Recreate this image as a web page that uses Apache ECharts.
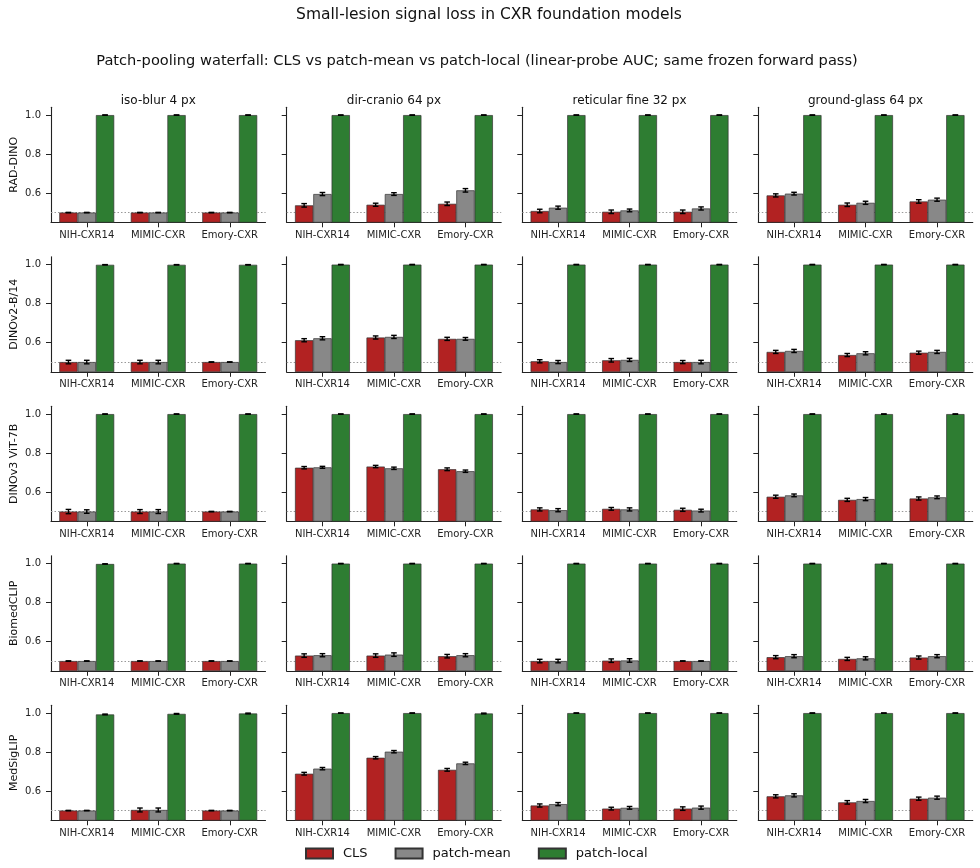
<!DOCTYPE html>
<html>
<head>
<meta charset="utf-8">
<script src="https://cdn.jsdelivr.net/npm/echarts@6/dist/echarts.min.js"></script>
<style>
html,body{margin:0;padding:0;background:#fff;}
#chart{width:980px;height:868px;}
</style>
</head>
<body>
<div id="chart"></div>
<script>
// ---------- data ----------
const lesions = ['iso-blur 4 px', 'dir-cranio 64 px', 'reticular fine 32 px', 'ground-glass 64 px'];
const models = ['RAD-DINO', 'DINOv2-B/14', 'DINOv3 ViT-7B', 'BiomedCLIP', 'MedSigLIP'];
const datasets = ['NIH-CXR14', 'MIMIC-CXR', 'Emory-CXR'];
const poolings = ['CLS', 'patch-mean', 'patch-local'];
const yTicks = [0.6, 0.8, 1.0];
const chanceLevel = 0.5;

// values: [lesion][dataset]
const radDinoCLS   = [[0.500,0.500,0.500],[0.537,0.540,0.545],[0.508,0.504,0.504],[0.588,0.540,0.557]];
const radDinoMean  = [[0.500,0.500,0.500],[0.595,0.595,0.614],[0.525,0.511,0.521],[0.597,0.550,0.566]];
const radDinoLocal = [[1.000,1.000,1.000],[1.000,1.000,1.000],[1.000,1.000,1.000],[1.000,1.000,1.000]];
const radDinoCLSErr   = [[0.001,0.001,0.001],[0.009,0.008,0.009],[0.009,0.009,0.009],[0.008,0.009,0.009]];
const radDinoMeanErr  = [[0.001,0.001,0.001],[0.008,0.007,0.009],[0.008,0.007,0.008],[0.007,0.008,0.008]];
const radDinoLocalErr = [[0.001,0.001,0.001],[0.001,0.001,0.001],[0.001,0.001,0.001],[0.001,0.001,0.001]];

const dinov2CLS   = [[0.500,0.500,0.500],[0.612,0.626,0.619],[0.504,0.509,0.500],[0.552,0.536,0.548]];
const dinov2Mean  = [[0.500,0.500,0.500],[0.622,0.629,0.619],[0.500,0.511,0.500],[0.557,0.545,0.552]];
const dinov2Local = [[0.999,0.999,0.999],[1.000,1.000,1.000],[1.000,1.000,1.000],[1.000,1.000,1.000]];
const dinov2CLSErr   = [[0.009,0.009,0.001],[0.008,0.008,0.008],[0.008,0.009,0.008],[0.008,0.008,0.008]];
const dinov2MeanErr  = [[0.009,0.009,0.001],[0.008,0.008,0.007],[0.008,0.008,0.009],[0.008,0.008,0.008]];
const dinov2LocalErr = [[0.001,0.001,0.001],[0.001,0.001,0.001],[0.001,0.001,0.001],[0.001,0.001,0.001]];

const dinov3CLS   = [[0.500,0.500,0.500],[0.725,0.731,0.717],[0.511,0.514,0.509],[0.576,0.560,0.567]];
const dinov3Mean  = [[0.500,0.500,0.500],[0.727,0.722,0.707],[0.507,0.511,0.505],[0.583,0.564,0.573]];
const dinov3Local = [[1.000,1.000,1.000],[1.000,1.000,1.000],[1.000,1.000,1.000],[1.000,1.000,1.000]];
const dinov3CLSErr   = [[0.011,0.010,0.001],[0.006,0.006,0.007],[0.008,0.007,0.008],[0.008,0.008,0.008]];
const dinov3MeanErr  = [[0.009,0.010,0.001],[0.005,0.006,0.006],[0.008,0.008,0.007],[0.007,0.008,0.007]];
const dinov3LocalErr = [[0.001,0.001,0.001],[0.001,0.001,0.001],[0.001,0.001,0.001],[0.001,0.001,0.001]];

const biomedCLS   = [[0.500,0.500,0.500],[0.528,0.528,0.525],[0.500,0.502,0.500],[0.520,0.511,0.518]];
const biomedMean  = [[0.500,0.500,0.500],[0.530,0.533,0.530],[0.500,0.503,0.500],[0.525,0.514,0.525]];
const biomedLocal = [[0.998,1.000,1.000],[1.000,1.000,1.000],[1.000,1.000,1.000],[1.000,1.000,1.000]];
const biomedCLSErr   = [[0.001,0.001,0.001],[0.009,0.009,0.009],[0.009,0.009,0.001],[0.008,0.008,0.008]];
const biomedMeanErr  = [[0.001,0.001,0.001],[0.008,0.009,0.008],[0.009,0.009,0.001],[0.008,0.008,0.008]];
const biomedLocalErr = [[0.001,0.001,0.001],[0.001,0.001,0.001],[0.001,0.001,0.001],[0.001,0.001,0.001]];

const medsigCLS   = [[0.500,0.503,0.500],[0.689,0.771,0.709],[0.526,0.510,0.510],[0.573,0.542,0.561]];
const medsigMean  = [[0.500,0.503,0.500],[0.715,0.802,0.742],[0.533,0.514,0.515],[0.578,0.549,0.566]];
const medsigLocal = [[0.993,0.996,0.998],[1.000,1.000,0.998],[1.000,1.000,1.000],[1.000,1.000,1.000]];
const medsigCLSErr   = [[0.001,0.010,0.001],[0.007,0.006,0.007],[0.008,0.007,0.009],[0.008,0.009,0.008]];
const medsigMeanErr  = [[0.001,0.010,0.001],[0.006,0.006,0.006],[0.008,0.007,0.008],[0.008,0.008,0.008]];
const medsigLocalErr = [[0.002,0.002,0.002],[0.001,0.001,0.002],[0.001,0.001,0.001],[0.001,0.001,0.001]];

const modelValues = [
  [radDinoCLS, radDinoMean, radDinoLocal],
  [dinov2CLS, dinov2Mean, dinov2Local],
  [dinov3CLS, dinov3Mean, dinov3Local],
  [biomedCLS, biomedMean, biomedLocal],
  [medsigCLS, medsigMean, medsigLocal]
];
const modelErrors = [
  [radDinoCLSErr, radDinoMeanErr, radDinoLocalErr],
  [dinov2CLSErr, dinov2MeanErr, dinov2LocalErr],
  [dinov3CLSErr, dinov3MeanErr, dinov3LocalErr],
  [biomedCLSErr, biomedMeanErr, biomedLocalErr],
  [medsigCLSErr, medsigMeanErr, medsigLocalErr]
];

// ---------- style / layout ----------
const FONT = 'DejaVu Sans';
const colors = ['#B22222', '#888888', '#2E7D32'];
const colLefts = [51, 286.7, 522.3, 758.3];
const gridW = 214.5;
const gridH = 115;
const rowTop0 = 107.3;
const rowStep = 149.5;
const barFrac = 0.256;

const chart = echarts.init(document.getElementById('chart'), null, {renderer: 'canvas'});

const grids = [], xAxes = [], yAxes = [], series = [], graphics = [];

graphics.push({type:'text', x: 489, y: 15, style:{text:'Small-lesion signal loss in CXR foundation models', font:`15.5px "${FONT}"`, fill:'#111', textAlign:'center', textVerticalAlign:'middle'}});
graphics.push({type:'text', x: 477, y: 61, style:{text:'Patch-pooling waterfall: CLS vs patch-mean vs patch-local (linear-probe AUC; same frozen forward pass)', font:`14.6px "${FONT}"`, fill:'#111', textAlign:'center', textVerticalAlign:'middle'}});

lesions.forEach((les, c) => {
  graphics.push({type:'text', x: colLefts[c] + gridW/2, y: 100.5, style:{text: les, font:`12px "${FONT}"`, fill:'#111', textAlign:'center', textVerticalAlign:'middle'}});
});

let gi = 0;
models.forEach((model, r) => {
  lesions.forEach((les, c) => {
    grids.push({left: colLefts[c], top: rowTop0 + r*rowStep, width: gridW, height: gridH, containLabel: false});
    xAxes.push({
      type: 'category', gridIndex: gi, data: datasets, boundaryGap: true,
      axisLine: {show: true, lineStyle: {color: '#222', width: 1.1}},
      axisTick: {show: true, alignWithLabel: true, length: 5, lineStyle: {color: '#222', width: 1}},
      axisLabel: {show: true, interval: 0, hideOverlap: false, fontFamily: FONT, fontSize: 10, color: '#222', margin: 8},
      splitLine: {show: false}
    });
    yAxes.push({
      type: 'value', gridIndex: gi, min: 0.45, max: 1.04,
      name: c === 0 ? model : '', nameLocation: 'middle', nameGap: 31, nameRotate: 90,
      nameTextStyle: {fontFamily: FONT, fontSize: 11, color: '#111'},
      axisLine: {show: true, lineStyle: {color: '#222', width: 1.1}},
      axisTick: {show: true, length: 5, customValues: yTicks, lineStyle: {color: '#222', width: 1}},
      axisLabel: {show: c === 0, customValues: yTicks, fontFamily: FONT, fontSize: 10, color: '#222', margin: 10,
                  formatter: v => v.toFixed(1)},
      splitLine: {show: false}
    });
    const vals = modelValues[r];
    const errs = modelErrors[r];
    poolings.forEach((p, k) => {
      const s = {
        type: 'bar', name: p, xAxisIndex: gi, yAxisIndex: gi,
        data: vals[k][c],
        barWidth: (barFrac*100) + '%', barGap: '0%',
        itemStyle: {color: colors[k], borderColor: '#333', borderWidth: 0.7},
        emphasis: {disabled: true}, animation: false, z: 2
      };
      if (k === 0) {
        s.markLine = {
          silent: true, symbol: 'none', z: 1, animation: false,
          label: {show: false},
          lineStyle: {color: '#999', type: [1.5, 2], width: 1},
          data: [{yAxis: chanceLevel}]
        };
      }
      series.push(s);
    });
    const errData = [];
    poolings.forEach((p, k) => {
      datasets.forEach((d, j) => {
        errData.push([j, k, vals[k][c][j], errs[k][c][j]]);
      });
    });
    series.push({
      type: 'custom', xAxisIndex: gi, yAxisIndex: gi, animation: false, silent: true, z: 5,
      encode: {x: 0, y: 2},
      data: errData,
      renderItem: (params, api) => {
        const cat = api.value(0), k = api.value(1), v = api.value(2), e = api.value(3);
        const band = api.size([1, 0])[0];
        const cx = api.coord([cat, v])[0] + (k - 1) * band * barFrac;
        const yTop = api.coord([cat, v + e])[1];
        const yBot = api.coord([cat, v - e])[1];
        const cap = 2.8;
        const st = {stroke: '#000', lineWidth: 1.4};
        return {type: 'group', children: [
          {type: 'line', shape: {x1: cx, y1: yTop, x2: cx, y2: yBot}, style: st},
          {type: 'line', shape: {x1: cx - cap, y1: yTop, x2: cx + cap, y2: yTop}, style: st},
          {type: 'line', shape: {x1: cx - cap, y1: yBot, x2: cx + cap, y2: yBot}, style: st}
        ]};
      }
    });
    gi++;
  });
});

chart.setOption({
  backgroundColor: '#fff',
  animation: false,
  textStyle: {fontFamily: FONT},
  legend: {
    data: poolings, left: 305, top: 847, itemWidth: 27, itemHeight: 10, itemGap: 27,
    icon: 'rect', padding: 0,
    textStyle: {fontFamily: FONT, fontSize: 13, color: '#111', padding: [0, 0, 0, 5]}
  },
  grid: grids, xAxis: xAxes, yAxis: yAxes, series: series, graphic: graphics
});
</script>
</body>
</html>
